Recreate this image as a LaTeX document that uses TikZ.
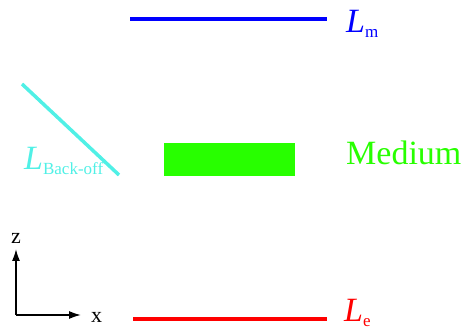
\documentclass[tikz,border=0pt]{standalone}
\usepackage{fontspec}
\setmainfont{Liberation Serif}
\usetikzlibrary{arrows.meta,positioning}
\definecolor{lineM}{RGB}{0,0,255}
\definecolor{lineE}{RGB}{255,0,0}
\definecolor{backoff}{RGB}{80,240,230}
\definecolor{medium}{RGB}{40,255,0}
\newcommand{\lsub}[1]{\textit{L}\raisebox{-5pt}{\fontsize{17}{20}\selectfont #1}}

\begin{document}
\begin{tikzpicture}[x=1pt,y=-1pt,>={Latex[length=12pt,width=8pt]},
  lbl/.style={inner sep=0pt,anchor=base west,font=\fontsize{34}{40}\selectfont},
  layer/.style={line width=3.5pt},
  axis/.style={->,line width=1.6pt},
  axlbl/.style={font=\fontsize{22}{26}\selectfont,inner sep=0pt,anchor=base west}]
\useasboundingbox (0,0) rectangle (464,331);
% upper and lower boundary lines
\coordinate (m1) at (130,19);
\coordinate (m2) at (327,19);
\draw[layer,lineM] (m1) -- (m2);
\node[lbl,lineM] (Lm) at (346,33) {\lsub{m}};

\coordinate (e1) at (133,319);
\coordinate (e2) at (327,319);
\draw[layer,lineE] (e1) -- (e2);
\node[lbl,lineE] (Le) at (344,322) {\lsub{e}};

% back-off line
\coordinate (b1) at (22,84);
\coordinate (b2) at (119,175);
\draw[layer,backoff] (b1) -- (b2);
\node[lbl,backoff] (Lb) at (24,170) {\lsub{Back-off}};

% medium block
\fill[medium] (164,143) rectangle (295,176);
\node[lbl,medium] (med) at (346,165) {Medium};

% axes
\coordinate (o) at (16,315);
\coordinate (zt) at (16,249);
\coordinate (xt) at (81,315);
\draw[axis] (o) -- (zt);
\draw[axis] (o) -- (xt);
\node[axlbl] (zl) at (11,244) {z};
\node[axlbl] (xl) at (91,323) {x};
\end{tikzpicture}
\end{document}
